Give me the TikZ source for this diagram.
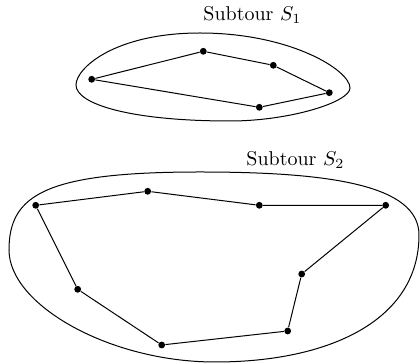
\documentclass[tikz,border=0pt]{standalone}
\begin{document}
\begin{tikzpicture}[x=0.5pt,y=-0.5pt,
  dot/.style={circle,fill=black,inner sep=0pt,minimum size=3.4pt},
  edge/.style={line width=0.5pt},
  hull/.style={line width=0.5pt},
  lbl/.style={anchor=base west,inner sep=0pt}]
\useasboundingbox (0,0) rectangle (420,363);
% Subtour S1
\node[dot] (a1) at (91.7,79.3) {};
\node[dot] (a2) at (203.3,51.3) {};
\node[dot] (a3) at (273.3,65.3) {};
\node[dot] (a4) at (329.3,92.7) {};
\node[dot] (a5) at (259.3,107.3) {};
\draw[edge] (a1) -- (a2) -- (a3) -- (a4) -- (a5) -- (a1);
\draw[hull] (76,85) .. controls (76,68) and (115,33) .. (200,33)
  .. controls (290,33) and (350,70) .. (350,88)
  .. controls (350,102) and (290,121) .. (230,121)
  .. controls (130,121) and (76,104) .. (76,85) -- cycle;
\node[lbl] (l1) at (203,21) {Subtour $S_1$};
% Subtour S2
\node[dot] (b1) at (35.7,205.3) {};
\node[dot] (b2) at (147.7,191.3) {};
\node[dot] (b3) at (259.3,205.3) {};
\node[dot] (b4) at (385.7,205.3) {};
\node[dot] (b5) at (301.7,274) {};
\node[dot] (b6) at (287.7,331) {};
\node[dot] (b7) at (161.7,345) {};
\node[dot] (b8) at (77.7,289.3) {};
\draw[edge] (b1) -- (b2) -- (b3) -- (b4) -- (b5) -- (b6) -- (b7) -- (b8) -- (b1);
\draw[hull] (9,250) .. controls (9,195) and (45,172) .. (200,172)
  .. controls (330,172) and (419,185) .. (419,235)
  .. controls (419,320) and (330,362) .. (215,362)
  .. controls (110,362) and (9,305) .. (9,250) -- cycle;
\node[lbl] (l2) at (246,165.5) {Subtour $S_2$};
\end{tikzpicture}
\end{document}
